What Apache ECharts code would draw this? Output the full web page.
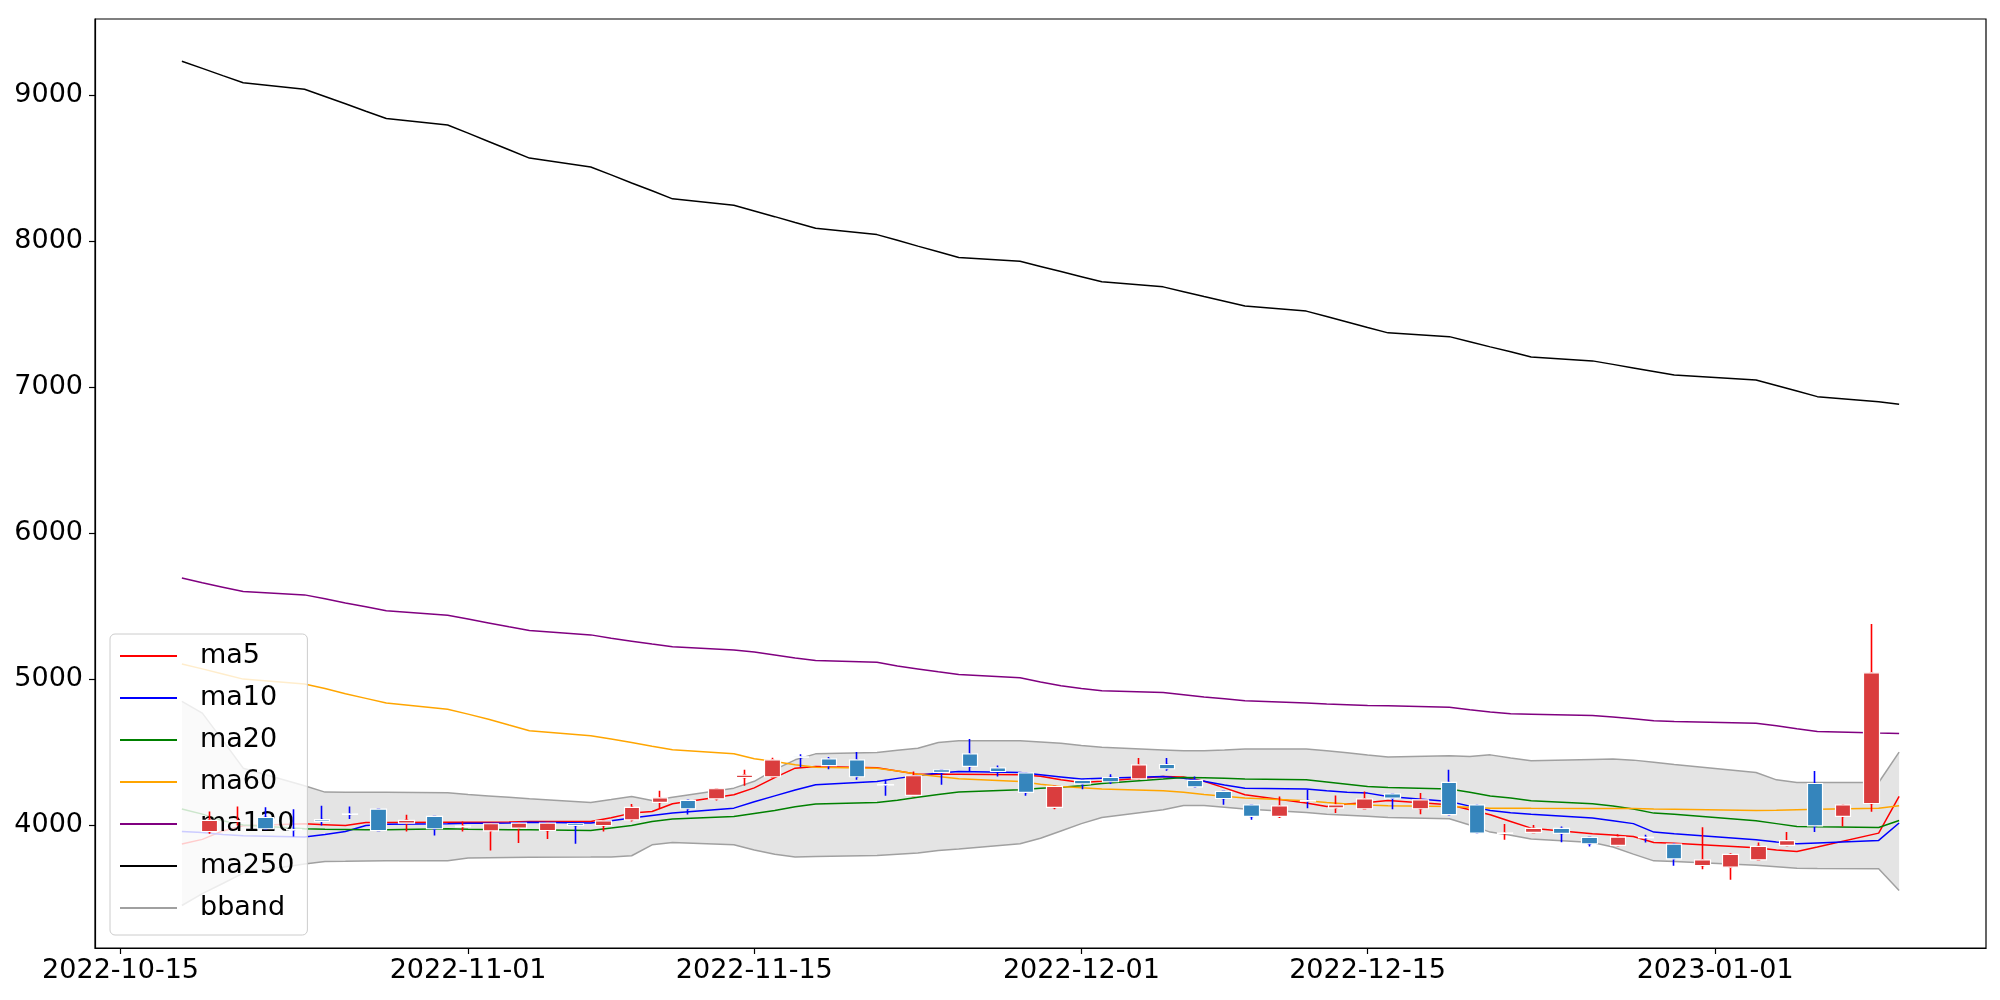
<!DOCTYPE html>
<html><head><meta charset="utf-8">
<script src="https://cdn.jsdelivr.net/npm/echarts@6/dist/echarts.min.js"></script>
<style>html,body{margin:0;padding:0;background:#fff}#c{width:2000px;height:1000px}</style>
</head><body><div id="c"></div>
<script>
// ---------- data ----------
const dates = [
 '2022-10-18','2022-10-19','2022-10-20','2022-10-21',
 '2022-10-24','2022-10-25','2022-10-26','2022-10-27','2022-10-28',
 '2022-10-31','2022-11-01','2022-11-02','2022-11-03','2022-11-04',
 '2022-11-07','2022-11-08','2022-11-09','2022-11-10','2022-11-11',
 '2022-11-14','2022-11-15','2022-11-16','2022-11-17','2022-11-18',
 '2022-11-21','2022-11-22','2022-11-23','2022-11-24','2022-11-25',
 '2022-11-28','2022-11-29','2022-11-30','2022-12-01','2022-12-02',
 '2022-12-05','2022-12-06','2022-12-07','2022-12-08','2022-12-09',
 '2022-12-12','2022-12-13','2022-12-14','2022-12-15','2022-12-16',
 '2022-12-19','2022-12-20','2022-12-21','2022-12-22','2022-12-23',
 '2022-12-26','2022-12-27','2022-12-28','2022-12-29','2022-12-30',
 '2023-01-03','2023-01-04','2023-01-05','2023-01-06',
 '2023-01-09','2023-01-10'];
const xTickLabels = ['2022-10-15','2022-11-01','2022-11-15','2022-12-01','2022-12-15','2023-01-01'];
const yTickValues = [4000,5000,6000,7000,8000,9000];

const open  = [3956,4025,4052,3970,4038,4077,4109,4014,4059,3989,3961,3979,3963,4009,3997,4036,4155,4169,4180,4326,
               4331,4468,4454,4447,4278,4203,4379,4488,4392,4358,4121,4306,4326,4317,4415,4306,4230,4139,4059,4168,
               4118,4112,4214,4112,4292,4139,3943,3950,3977,3915,3861,3917,3870,3723,3712,3762,3861,4285,4059,4148];
const close = [4032,4030,3975,3966,4026,4073,3963,4032,3975,3993,4009,4013,4013,3997,4029,4121,4187,4112,4249,4342,
               4447,4464,4408,4331,4274,4338,4361,4402,4367,4224,4265,4283,4297,4413,4386,4262,4182,4059,4132,4164,
               4139,4180,4185,4173,4071,3945,3947,3977,3943,3872,3918,3913,3769,3762,3799,3854,3893,3995,4139,5043];
const low   = [3940,3998,3972,3922,3998,4041,3963,3956,3929,3956,3826,3877,3904,3872,3956,4025,4116,4073,4169,4269,
               4331,4397,4383,4310,4201,4203,4276,4367,4333,4201,4109,4246,4281,4317,4372,4262,4139,4036,4048,4116,
               4082,4112,4109,4075,4071,3945,3899,3950,3883,3854,3861,3881,3721,3698,3625,3762,3861,3952,3991,4091];
const high  = [4093,4128,4123,4109,4132,4128,4109,4071,4059,4025,4009,4020,4013,4009,4032,4144,4235,4169,4249,4379,
               4461,4486,4466,4500,4310,4367,4379,4589,4408,4358,4265,4306,4349,4459,4459,4333,4230,4139,4196,4242,
               4203,4230,4214,4219,4379,4139,4007,4000,3991,3915,3938,3934,3870,3986,3808,3881,3952,4370,4139,5377];

const ma5   = [3870,3902,3960,3995, 4009,4003,3997,4018,4018, 4020,4020,4020,4022,4025, 4025,4050,4082,4093,4146,
               4208,4255,4325,4390,4401, 4392,4370,4349,4349,4349, 4345,4335,4310,4292,4300, 4333,4330,4300,4255,4208,
               4151,4127,4145,4155,4168, 4139,4105,4071,4025,3979, 3940,3932,3922,3881,3875, 3845,3830,3819,3850, 3945,4196];
const ma10  = [3956,3950,3935,3927, 3918,3935,3956,3997,4005, 4009,4012,4013,4015,4020, 4014,4030,4048,4065,4082,
               4116,4160,4200,4240,4276, 4299,4320,4340,4356,4367, 4360,4345,4330,4315,4320, 4333,4320,4300,4275,4253,
               4247,4235,4225,4219,4196, 4162,4130,4100,4085,4075, 4048,4030,4010,3952,3940, 3900,3884,3872,3878, 3895,4014];
const ma20  = [4110,4075,4030,4000, 3975,3972,3970,3968,3968, 3975,3972,3970,3968,3968, 3963,3980,3997,4025,4041,
               4059,4080,4100,4125,4144, 4155,4170,4190,4210,4226, 4242,4252,4260,4270,4285, 4315,4326,4325,4320,4315,
               4310,4295,4280,4265,4258, 4247,4225,4200,4185,4166, 4146,4130,4110,4082,4075, 4030,4010,3990,3988, 3984,4032];
const ma60  = [5103,5070,5035,5000, 4966,4935,4900,4868,4836, 4794,4760,4725,4685,4646, 4612,4590,4565,4540,4516,
               4488,4455,4435,4413,4397, 4390,4370,4349,4333,4317, 4299,4280,4265,4255,4247, 4235,4225,4210,4197,4185,
               4166,4155,4145,4138,4132, 4127,4122,4116,4116,4115, 4114,4114,4114,4110,4108, 4100,4102,4105,4108, 4116,4132];
const ma120 = [5692,5660,5630,5600, 5577,5550,5522,5495,5468, 5438,5412,5385,5358,5333, 5303,5280,5260,5240,5222,
               5200,5185,5165,5145,5127, 5115,5090,5070,5050,5031, 5010,4980,4955,4935,4920, 4908,4893,4878,4865,4851,
               4836,4830,4825,4820,4817, 4808,4790,4775,4762,4760, 4751,4740,4728,4714,4710, 4697,4680,4660,4641, 4630,4627];
const ma250 = [9233,9184,9134,9085, 9041,8991,8941,8890,8840, 8796,8740,8683,8626,8569, 8508,8454,8399,8345,8290,
               8246,8207,8168,8128,8089, 8045,8006,7966,7927,7888, 7862,7827,7792,7757,7722, 7687,7654,7621,7589,7556,
               7521,7484,7447,7409,7372, 7346,7311,7276,7242,7207, 7180,7156,7132,7108,7084, 7049,7011,6973,6935, 6900,6883];
const bbUpper = [4847,4767,4580,4390, 4269,4226,4225,4225,4225, 4222,4210,4200,4190,4180, 4155,4175,4196,4169,4190,
               4253,4300,4380,4447,4488, 4497,4512,4527,4566,4577, 4577,4570,4560,4545,4534, 4515,4509,4509,4515,4522,
               4522,4510,4495,4480,4466, 4475,4470,4481,4460,4440, 4450,4452,4445,4430,4415, 4360,4310,4292,4292, 4292,4500];
const bbLower = [3449,3530,3600,3671, 3733,3751,3752,3754,3755, 3755,3774,3776,3778,3780, 3781,3782,3790,3865,3881,
               3865,3830,3800,3781,3785, 3792,3800,3808,3826,3836, 3872,3910,3960,4010,4052, 4105,4134,4134,4122,4110,
               4086,4075,4068,4060,4052, 4043,4000,3952,3930,3904, 3880,3850,3801,3755,3750, 3725,3715,3705,3703, 3701,3552];

// ---------- build ----------
const DAY0 = Date.UTC(2022, 9, 15);
function dayNum(s){ const p = s.split('-').map(Number); return (Date.UTC(p[0], p[1]-1, p[2]) - DAY0) / 86400000; }
const xd = dates.map(dayNum);
const xTickVals = xTickLabels.map(dayNum);
const labelOf = {}; xTickLabels.forEach((t,i)=>{ labelOf[xTickVals[i]] = t; });
const pts = arr => arr.map((v,i)=>[xd[i], v]);
const candleFull = open.map((o,i)=>[o, close[i], low[i], high[i]]);
const candleBody = open.map((o,i)=>[o, close[i], Math.min(o, close[i]), Math.max(o, close[i])]);
const bandPts = bbUpper.map((u,i)=>[xd[i], u, bbLower[i]]);

const FONT = 'DejaVu Sans';
const YMIN = 3158, YMAX = 9522;

function lineSeries(name, data, color, z){
  return { name, type:'line', data: pts(data), xAxisIndex:0, yAxisIndex:0, symbol:'none',
    color, lineStyle:{ color, width:1.5 }, z: z || 2, silent:true };
}

const chart = echarts.init(document.getElementById('c'), null, { renderer:'canvas' });
chart.setOption({
  animation:false,
  backgroundColor:'#ffffff',
  grid:[
    { left:95, right:14, top:19, bottom:52, show:true, borderColor:'#000', borderWidth:1.2, backgroundColor:'transparent' },
    { left:195.2, right:114.6, top:19, bottom:52, show:false }
  ],
  xAxis:[
    { type:'value', gridIndex:0, min:-1.25, max:91.25,
      axisLine:{ show:true, onZero:false, lineStyle:{ color:'#000', width:1.2 } },
      axisTick:{ show:true, customValues:xTickVals, length:6, lineStyle:{ color:'#000', width:1.2 } },
      axisLabel:{ customValues:xTickVals, formatter:v => labelOf[v] || '', fontSize:27, fontFamily:FONT, color:'#000', margin:9 },
      splitLine:{ show:false } },
    { type:'category', gridIndex:1, data:dates, boundaryGap:true, show:false }
  ],
  yAxis:[
    { type:'value', gridIndex:0, min:YMIN, max:YMAX,
      axisLine:{ show:true, onZero:false, lineStyle:{ color:'#000', width:1.2 } },
      axisTick:{ show:true, customValues:yTickValues, length:6, lineStyle:{ color:'#000', width:1.2 } },
      axisLabel:{ customValues:yTickValues, formatter:v => String(v), fontSize:27, fontFamily:FONT, color:'#000', margin:12 },
      splitLine:{ show:false } },
    { type:'value', gridIndex:1, min:YMIN, max:YMAX, show:false, splitLine:{show:false} }
  ],
  legend:{
    data:['ma5','ma10','ma20','ma60','ma120','ma250','bband'],
    orient:'vertical', left:110, top:634,
    padding:[7,13,12,10],
    itemWidth:57, itemHeight:2, itemGap:12, icon:'rect',
    backgroundColor:'rgba(255,255,255,0.8)', borderColor:'#cccccc', borderWidth:1, borderRadius:5,
    textStyle:{ fontSize:27, fontFamily:FONT, color:'#000', lineHeight:30, padding:[0,0,0,18] },
    selectedMode:false, z:4
  },
  series:[
    { type:'custom', name:'bandfill', xAxisIndex:0, yAxisIndex:0, data:bandPts, z:1, silent:true,
      encode:{ x:0, y:[1,2] },
      renderItem:function(params, api){
        if (params.dataIndex !== 0) return null;
        const top = bandPts.map(p => api.coord([p[0], p[1]]));
        const bot = bandPts.map(p => api.coord([p[0], p[2]])).reverse();
        return { type:'polygon', shape:{ points: top.concat(bot) }, style:{ fill:'rgba(128,128,128,0.21)' } };
      } },
    lineSeries('bband', bbUpper, '#a0a0a0'),
    lineSeries('bband', bbLower, '#a0a0a0'),
    lineSeries('ma5', ma5, '#ff0000', 3),
    lineSeries('ma10', ma10, '#0000ff', 3),
    lineSeries('ma20', ma20, '#008000', 3),
    lineSeries('ma60', ma60, '#ffa500', 3),
    lineSeries('ma120', ma120, '#800080', 3),
    lineSeries('ma250', ma250, '#000000', 3),
    { type:'candlestick', name:'wick', xAxisIndex:1, yAxisIndex:1, data:candleFull, barWidth:2, z:5, silent:true,
      itemStyle:{ color:'#ff0000', color0:'#0000ff', borderColor:'#ff0000', borderColor0:'#0000ff', borderWidth:1.6 } },
    { type:'candlestick', name:'body', xAxisIndex:1, yAxisIndex:1, data:candleBody, barWidth:16, z:6, silent:true,
      itemStyle:{ color:'#da3d3e', color0:'#3585bc', borderColor:'#ffffff', borderColor0:'#ffffff', borderWidth:1.2 } }
  ]
});
</script>
</body></html>
